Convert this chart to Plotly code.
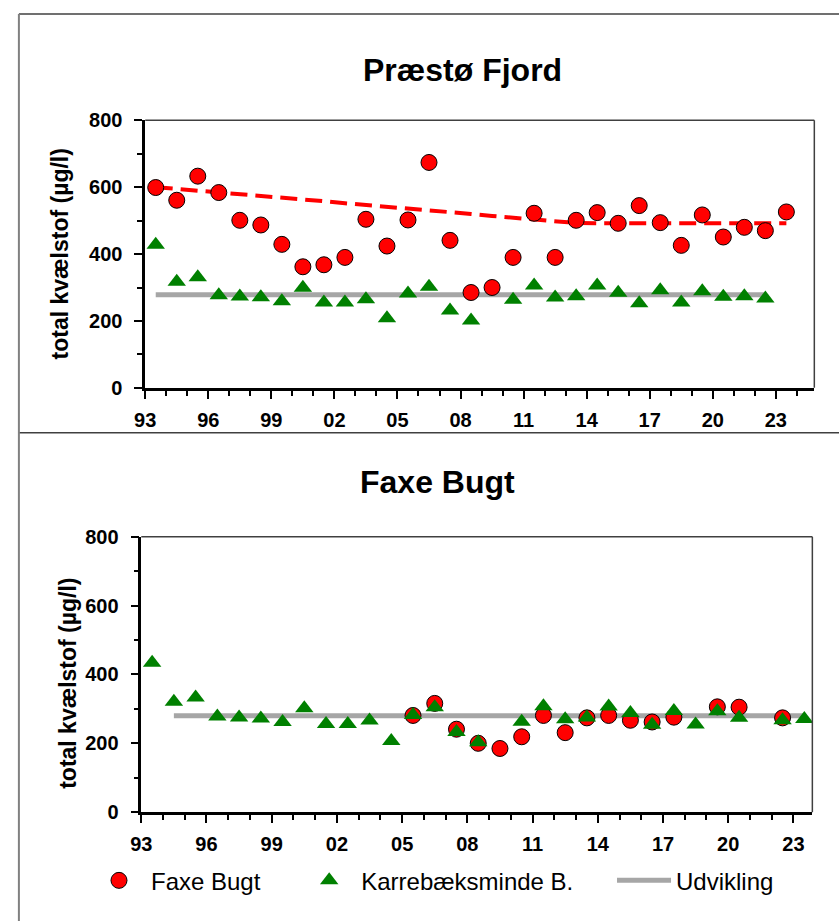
import plotly.graph_objects as go

# ---------------- data ----------------
years = [1993.5 + i for i in range(31)]          # 1993 .. 2023 (plotted mid-year)

praesto = [599, 561, 633, 584, 501, 487, 429, 362, 368, 390, 504, 424, 502, 674, 441,
           285, 300, 390, 522, 390, 501, 524, 492, 545, 494, 426, 517, 451, 480, 470, 526]

praesto_trend = [600, 595, 590, 585, 579, 574, 568, 563, 558, 552, 547, 541, 536, 531, 525,
                 520, 514, 509, 503, 498, 493, 492, 492, 492, 492, 492, 492, 492, 492, 492, 492]

karrebaek_top = [428, 317, 331, 277, 273, 271, 259, 299, 255, 255, 265, 208, 282, 302, 231,
                 201, None, 263, 306, 270, 274, 306, 284, 253, 292, 255, 289, 272, 274, 267, None]

karrebaek_bottom = [434, 321, 333, 278, 275, 272, 262, 302, 256, 256, 266, 207, 282, 305, 233,
                    203, None, 263, 308, 270, 275, 307, 288, 254, 294, 255, 293, 274, None, 267, 271]

faxe = [None, None, None, None, None, None, None, None, None, None, None, None, 281, 316, 241,
        200, 185, 219, 281, 231, 274, 281, 267, 262, 276, None, 306, 305, None, 274, None]

udv_top_x = [1993.5, 2022.5]
udv_top_y = [278, 278]
udv_bottom_x = [1994.5, 2023.5]
udv_bottom_y = [280, 280]

tick_years = list(range(1993, 2024, 3))
tick_text = ["93", "96", "99", "02", "05", "08", "11", "14", "17", "20", "23"]

titles = ["Præstø Fjord", "Faxe Bugt"]
ytitle = "total kvælstof (µg/l)"
legend_names = ["Faxe Bugt", "Karrebæksminde B.", "Udvikling"]

# ---------------- styling ----------------
W, H = 839, 923
FONT = "Liberation Sans, Arial, sans-serif"
RED = "#FF0000"
GREEN = "#008000"
GRAY = "#A6A6A6"


def px(x):
    return x / W


def py(y):
    return 1 - y / H


fig = go.Figure()

# ---- top panel (Præstø Fjord) ----
fig.add_trace(go.Scatter(x=udv_top_x, y=udv_top_y, mode="lines",
                         line=dict(color=GRAY, width=5), showlegend=False,
                         xaxis="x", yaxis="y", hoverinfo="skip"))
fig.add_trace(go.Scatter(x=years, y=praesto_trend, mode="lines",
                         line=dict(color=RED, width=4, dash="17px,8px"), showlegend=False,
                         xaxis="x", yaxis="y"))
fig.add_trace(go.Scatter(x=years, y=praesto, mode="markers", name="Præstø Fjord",
                         marker=dict(symbol="circle", size=16, color=RED,
                                     line=dict(color="black", width=1)),
                         showlegend=False, xaxis="x", yaxis="y"))
fig.add_trace(go.Scatter(x=years, y=karrebaek_top, mode="markers", name=legend_names[1],
                         marker=dict(symbol="triangle-up", size=16, color=GREEN, line=dict(width=0)),
                         showlegend=False, xaxis="x", yaxis="y"))

# ---- bottom panel (Faxe Bugt) ----
fig.add_trace(go.Scatter(x=udv_bottom_x, y=udv_bottom_y, mode="lines", name=legend_names[2],
                         line=dict(color=GRAY, width=5), legend="legend3",
                         xaxis="x2", yaxis="y2", hoverinfo="skip"))
fig.add_trace(go.Scatter(x=years, y=faxe, mode="markers", name=legend_names[0],
                         marker=dict(symbol="circle", size=16, color=RED,
                                     line=dict(color="black", width=1)),
                         legend="legend", xaxis="x2", yaxis="y2"))
fig.add_trace(go.Scatter(x=years, y=karrebaek_bottom, mode="markers", name=legend_names[1],
                         marker=dict(symbol="triangle-up", size=16, color=GREEN, line=dict(width=0)),
                         legend="legend2", xaxis="x2", yaxis="y2"))

tickfont = dict(family=FONT, size=20, color="black", weight="bold")

xcommon = dict(tickmode="array", tickvals=tick_years, ticktext=tick_text,
               ticks="outside", ticklen=8, tickwidth=2, tickcolor="black",
               minor=dict(dtick=1, tick0=1993, ticks="outside", ticklen=5, tickwidth=2,
                          tickcolor="black", showgrid=False),
               showline=True, linecolor="black", linewidth=2.5,
               showgrid=False, zeroline=False, tickfont=tickfont, ticklabelstandoff=4)
ycommon = dict(range=[0, 800], tickmode="array", tickvals=[0, 200, 400, 600, 800],
               ticks="outside", ticklen=8, tickwidth=2, tickcolor="black",
               minor=dict(dtick=100, tick0=0, ticks="outside", ticklen=5, tickwidth=2,
                          tickcolor="black", showgrid=False),
               showline=True, linecolor="black", linewidth=2.5,
               showgrid=False, zeroline=False, tickfont=tickfont, ticklabelstandoff=8)

legfont = dict(family=FONT, size=24, color="black")
legcommon = dict(orientation="h", yanchor="middle", xanchor="left", y=py(891),
                 bgcolor="rgba(0,0,0,0)", font=legfont, itemclick=False, itemwidth=54)

fig.update_layout(
    width=W, height=H,
    margin=dict(l=0, r=0, t=0, b=0),
    paper_bgcolor="white", plot_bgcolor="white",
    font=dict(family=FONT, color="black"),
    xaxis=dict(domain=[px(136), px(814)], range=[1993, 2024.83], anchor="y", **xcommon),
    yaxis=dict(domain=[py(386), py(112)], anchor="x", **ycommon),
    xaxis2=dict(domain=[px(132), px(812)], range=[1993, 2023.87], anchor="y2", **xcommon),
    yaxis2=dict(domain=[py(820.7), py(538.7)], anchor="x2", **ycommon),
    legend=dict(x=px(77), **legcommon),
    legend2=dict(x=px(290), **legcommon),
    legend3=dict(x=px(609), **legcommon),
    showlegend=True,
)

# plot-area top/right frame lines
for xr, yr in (("x domain", "y domain"), ("x2 domain", "y2 domain")):
    fig.add_shape(type="line", xref=xr, yref=yr, x0=0, x1=1, y0=1, y1=1,
                  line=dict(color="#404040", width=1.5))
    fig.add_shape(type="line", xref=xr, yref=yr, x0=1, x1=1, y0=0, y1=1,
                  line=dict(color="#404040", width=1.5))

# outer chart-area frames
fig.add_shape(type="line", xref="paper", yref="paper", x0=px(8), x1=1.01, y0=py(3), y1=py(3),
              line=dict(color="#404040", width=1.5))
fig.add_shape(type="line", xref="paper", yref="paper", x0=px(8), x1=1.01, y0=py(432), y1=py(432),
              line=dict(color="#404040", width=1.5))
fig.add_shape(type="line", xref="paper", yref="paper", x0=px(8), x1=px(8), y0=py(3), y1=-0.01,
              line=dict(color="#808080", width=2))

# titles
fig.add_annotation(text="<b>" + titles[0] + "</b>", xref="paper", yref="paper",
                   x=px(457), y=py(60), xanchor="center", yanchor="middle", showarrow=False,
                   font=dict(family=FONT, size=32, color="black"))
fig.add_annotation(text="<b>" + titles[1] + "</b>", xref="paper", yref="paper",
                   x=px(432), y=py(483), xanchor="center", yanchor="middle", showarrow=False,
                   font=dict(family=FONT, size=32, color="black"))
# y-axis titles
fig.add_annotation(text="<b>" + ytitle + "</b>", xref="paper", yref="paper",
                   x=px(50), y=py(249), xanchor="center", yanchor="middle", showarrow=False,
                   textangle=-90, font=dict(family=FONT, size=23, color="black"))
fig.add_annotation(text="<b>" + ytitle + "</b>", xref="paper", yref="paper",
                   x=px(57), y=py(689), xanchor="center", yanchor="middle", showarrow=False,
                   textangle=-90, font=dict(family=FONT, size=23, color="black"))

fig.write_html("out.html", config={"displayModeBar": False},
               post_script="document.body.style.margin='0';document.body.style.overflow='hidden';")
